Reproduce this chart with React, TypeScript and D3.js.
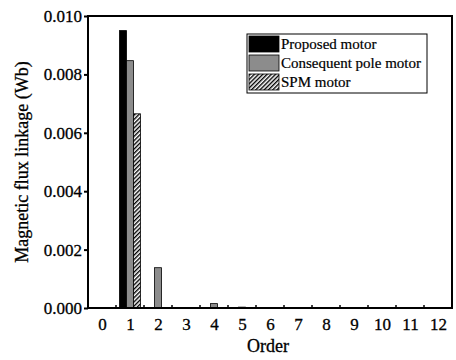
import { useEffect, useRef } from "react";
import * as d3 from "d3";

const orders = [0, 1, 2, 3, 4, 5, 6, 7, 8, 9, 10, 11, 12];
const proposed = [0, 0.0095, 0, 0, 0, 0, 0, 0, 0, 0, 0, 0, 0];
const consequent = [0, 0.00847, 0.00138, 0, 0.00015, 0.00003, 0, 0, 0, 0, 0, 0, 0];
const spm = [0, 0.00665, 0, 0, 0, 0, 0, 0, 0, 0, 0, 0, 0];
const yTicks = [0, 0.002, 0.004, 0.006, 0.008, 0.01];
const seriesNames = ["Proposed motor", "Consequent pole motor", "SPM motor"];

const FONT = "'Liberation Serif', 'Times New Roman', serif";

export default function App() {
  const svgRef = useRef<SVGSVGElement>(null);

  useEffect(() => {
    const W = 456, H = 360;
    const margin = { top: 16, right: 4, bottom: 52, left: 88 };
    const width = W - margin.left - margin.right;
    const height = H - margin.top - margin.bottom;

    const root = d3.select(svgRef.current);
    root.selectAll("*").remove();

    const defs = root.append("defs");
    const pat = defs
      .append("pattern")
      .attr("id", "hatch")
      .attr("patternUnits", "userSpaceOnUse")
      .attr("width", 3)
      .attr("height", 3)
      .attr("patternTransform", "rotate(45)");
    pat.append("rect").attr("width", 3).attr("height", 3).attr("fill", "#fff");
    pat
      .append("line")
      .attr("x1", 0.7)
      .attr("y1", 0)
      .attr("x2", 0.7)
      .attr("y2", 3)
      .attr("stroke", "#000")
      .attr("stroke-width", 1.4);

    const g = root.append("g").attr("transform", `translate(${margin.left},${margin.top})`);

    const x = d3.scaleLinear().domain([-0.5, 12.5]).range([0, width]);
    const y = d3.scaleLinear().domain([0, 0.01]).range([height, 0]);

    const bw = x(0.25) - x(0);
    const fills = ["#000", "#8c8c8c", "url(#hatch)"];
    const series = [proposed, consequent, spm];

    series.forEach((vals, si) => {
      g.append("g")
        .selectAll("rect")
        .data(orders.filter((_, i) => vals[i] > 0))
        .enter()
        .append("rect")
        .attr("x", (o) => x(o) + (si - 1) * bw - bw / 2)
        .attr("y", (o) => y(vals[o]))
        .attr("width", bw)
        .attr("height", (o) => height - y(vals[o]))
        .attr("fill", fills[si])
        .attr("stroke", "#000")
        .attr("stroke-width", 0.8);
    });

    // frame
    g.append("rect")
      .attr("width", width)
      .attr("height", height)
      .attr("fill", "none")
      .attr("stroke", "#000")
      .attr("stroke-width", 2);

    // y axis
    const yAxis = g.append("g").call(
      d3.axisLeft(y).tickValues(yTicks).tickSize(4).tickFormat(d3.format(".3f"))
    );
    yAxis.select(".domain").remove();
    yAxis.selectAll("line").attr("stroke-width", 2);
    yAxis
      .selectAll("text")
      .attr("font-family", FONT)
      .attr("font-size", 17)
      .attr("fill", "#000")
      .attr("stroke", "#000")
      .attr("stroke-width", 0.3)
      .attr("x", -6);

    // x axis
    const xAxis = g
      .append("g")
      .attr("transform", `translate(0,${height})`)
      .call(d3.axisBottom(x).tickValues(orders).tickSize(0).tickFormat(d3.format("d")));
    xAxis.select(".domain").remove();
    xAxis
      .selectAll("text")
      .attr("font-family", FONT)
      .attr("font-size", 17)
      .attr("fill", "#000")
      .attr("stroke", "#000")
      .attr("stroke-width", 0.3)
      .attr("dy", "1.1em");

    // small inward minor ticks at half orders
    g.append("g")
      .selectAll("line")
      .data(orders.slice(0, 12).map((o) => o + 0.5))
      .enter()
      .append("line")
      .attr("x1", (d) => x(d))
      .attr("x2", (d) => x(d))
      .attr("y1", height)
      .attr("y2", height - 3)
      .attr("stroke", "#000")
      .attr("stroke-width", 1.5);

    // axis titles
    root
      .append("text")
      .attr("x", margin.left + width / 2 - 2)
      .attr("y", 352)
      .attr("text-anchor", "middle")
      .attr("font-family", FONT)
      .attr("font-size", 18)
      .attr("stroke", "#000")
      .attr("stroke-width", 0.3)
      .text("Order");
    root
      .append("text")
      .attr("transform", `translate(28,${margin.top + height / 2}) rotate(-90)`)
      .attr("text-anchor", "middle")
      .attr("font-family", FONT)
      .attr("font-size", 18)
      .attr("stroke", "#000")
      .attr("stroke-width", 0.3)
      .text("Magnetic flux linkage (Wb)");

    // legend
    const lg = root.append("g").attr("transform", "translate(247,34)");
    lg.append("rect")
      .attr("width", 180)
      .attr("height", 59)
      .attr("fill", "#fff")
      .attr("stroke", "#000")
      .attr("stroke-width", 1);
    seriesNames.forEach((name, i) => {
      lg.append("rect")
        .attr("x", 2)
        .attr("y", 2 + i * 19)
        .attr("width", 30)
        .attr("height", 16)
        .attr("fill", fills[i])
        .attr("stroke", "#000")
        .attr("stroke-width", 0.8);
      lg.append("text")
        .attr("x", 34)
        .attr("y", 15 + i * 19)
        .attr("font-family", FONT)
        .attr("font-size", 15)
        .attr("stroke", "#000")
        .attr("stroke-width", 0.2)
        .text(name);
    });
  }, []);

  return (
    <svg
      ref={svgRef}
      width={456}
      height={360}
      style={{ position: "absolute", left: 0, top: 0, background: "#fff" }}
    />
  );
}
